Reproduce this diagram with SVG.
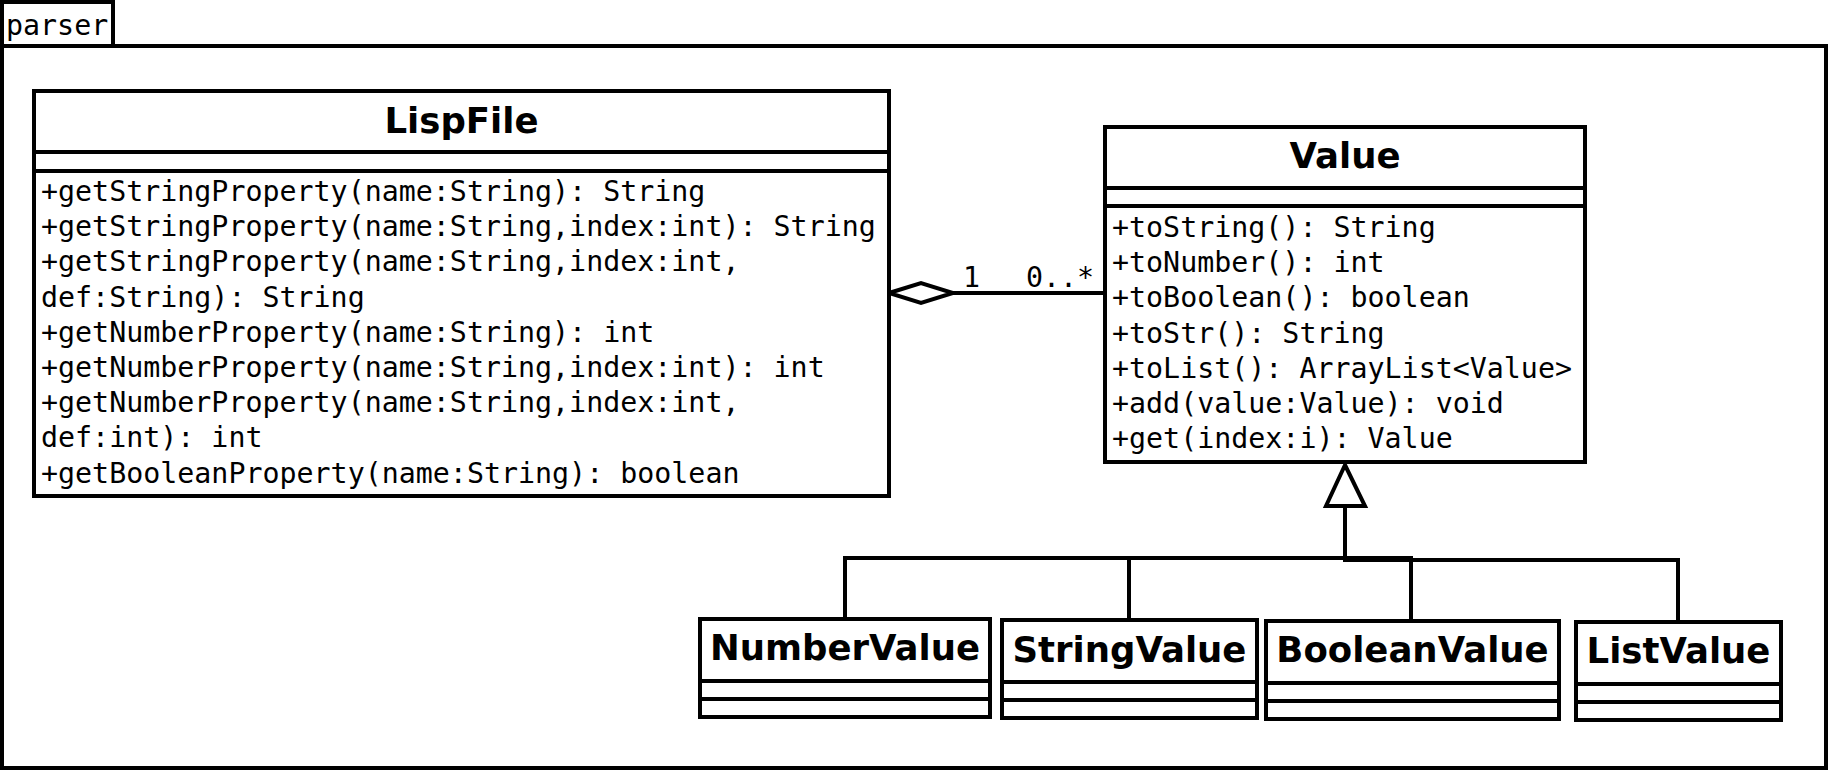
<svg xmlns="http://www.w3.org/2000/svg" width="1829" height="771" viewBox="0 0 1829 771">
<style>
.box{fill:#fff;stroke:#000;stroke-width:4}
.sep{stroke:#000;stroke-width:4}
.ln{fill:none;stroke:#000;stroke-width:4}
.t{font-family:"DejaVu Sans",sans-serif;font-weight:bold;font-size:35.5px;text-anchor:middle;fill:#000}
.m{font-family:"DejaVu Sans Mono",monospace;font-size:28.3px;fill:#000}
</style>
<rect width="1829" height="771" fill="#fff"/>
<g id="package-parser">
<rect class="box" x="2" y="46" width="1824" height="722"/>
<rect class="box" x="2" y="2" width="111" height="44"/>
<text class="m" x="6" y="35">parser</text>
</g>
<g id="connectors">
<line class="ln" x1="953" y1="293" x2="1105" y2="293"/>
<polygon class="box" points="889,293 921,283 953,293 921,303"/>
<text class="m" x="963" y="287">1</text>
<text class="m" x="1026" y="287">0..*</text>
<polyline class="ln" points="845,619 845,558 1411,558 1411,620"/>
<line class="ln" x1="1129" y1="558" x2="1129" y2="620"/>
<polyline class="ln" points="1343,560 1678,560 1678,622"/>
<line class="ln" x1="1345" y1="506" x2="1345" y2="560"/>
<polygon class="box" points="1345,465 1326,506 1365,506"/>
</g>
<g id="LispFile">
<rect class="box" x="34" y="91" width="855" height="405"/>
<line class="sep" x1="34" y1="152" x2="889" y2="152"/>
<line class="sep" x1="34" y1="171" x2="889" y2="171"/>
<text class="t" x="461.5" y="133">LispFile</text>
<text class="m" x="41" y="201">+getStringProperty(name:String): String</text>
<text class="m" x="41" y="236.2">+getStringProperty(name:String,index:int): String</text>
<text class="m" x="41" y="271.4">+getStringProperty(name:String,index:int,</text>
<text class="m" x="41" y="306.6">def:String): String</text>
<text class="m" x="41" y="341.8">+getNumberProperty(name:String): int</text>
<text class="m" x="41" y="377">+getNumberProperty(name:String,index:int): int</text>
<text class="m" x="41" y="412.2">+getNumberProperty(name:String,index:int,</text>
<text class="m" x="41" y="447.4">def:int): int</text>
<text class="m" x="41" y="482.6">+getBooleanProperty(name:String): boolean</text>
</g>
<g id="Value">
<rect class="box" x="1105" y="127" width="480" height="335"/>
<line class="sep" x1="1105" y1="188" x2="1585" y2="188"/>
<line class="sep" x1="1105" y1="206" x2="1585" y2="206"/>
<text class="t" x="1345" y="168">Value</text>
<text class="m" x="1112" y="236.7">+toString(): String</text>
<text class="m" x="1112" y="272">+toNumber(): int</text>
<text class="m" x="1112" y="307.2">+toBoolean(): boolean</text>
<text class="m" x="1112" y="342.5">+toStr(): String</text>
<text class="m" x="1112" y="377.8">+toList(): ArrayList&lt;Value&gt;</text>
<text class="m" x="1112" y="413">+add(value:Value): void</text>
<text class="m" x="1112" y="448.3">+get(index:i): Value</text>
</g>
<g id="NumberValue">
<rect class="box" x="700" y="619" width="290" height="98"/>
<line class="sep" x1="700" y1="681" x2="990" y2="681"/>
<line class="sep" x1="700" y1="699" x2="990" y2="699"/>
<text class="t" x="845" y="660">NumberValue</text>
</g>
<g id="StringValue">
<rect class="box" x="1002" y="620" width="255" height="98"/>
<line class="sep" x1="1002" y1="682" x2="1257" y2="682"/>
<line class="sep" x1="1002" y1="700" x2="1257" y2="700"/>
<text class="t" x="1129.5" y="661.5">StringValue</text>
</g>
<g id="BooleanValue">
<rect class="box" x="1266" y="621" width="293" height="98"/>
<line class="sep" x1="1266" y1="683" x2="1559" y2="683"/>
<line class="sep" x1="1266" y1="701" x2="1559" y2="701"/>
<text class="t" x="1412.5" y="662">BooleanValue</text>
</g>
<g id="ListValue">
<rect class="box" x="1576" y="622" width="205" height="98"/>
<line class="sep" x1="1576" y1="684" x2="1781" y2="684"/>
<line class="sep" x1="1576" y1="702" x2="1781" y2="702"/>
<text class="t" x="1678.5" y="663">ListValue</text>
</g>
</svg>
